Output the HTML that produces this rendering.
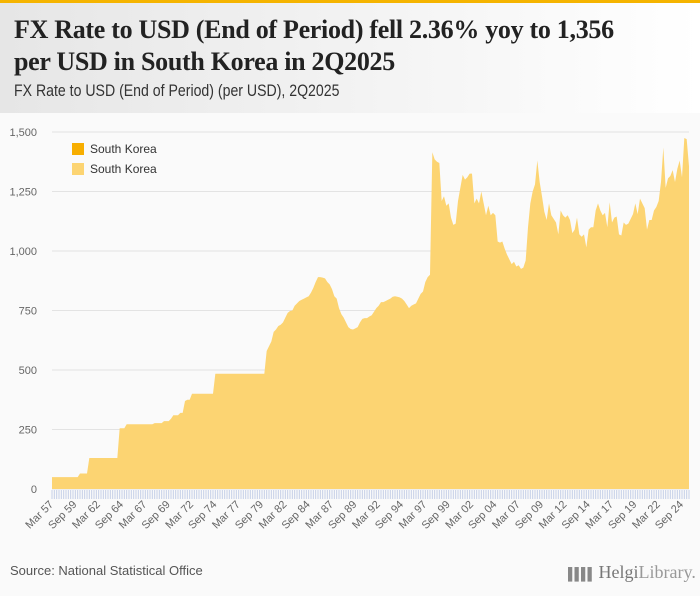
<!DOCTYPE html>
<html><head><meta charset="utf-8">
<style>
html,body{margin:0;padding:0;}
body{width:700px;height:596px;background:#fafafa;font-family:"Liberation Sans",sans-serif;position:relative;overflow:hidden;}
#topbar{position:absolute;left:0;top:0;width:700px;height:3px;background:#f5b400;}
#header{position:absolute;left:0;top:3px;width:700px;height:110px;background:linear-gradient(90deg,#e6e6e6,#ffffff);}
#title{position:absolute;left:14px;top:14px;font-family:"Liberation Serif",serif;font-weight:bold;font-size:26px;line-height:32px;color:#222;letter-spacing:-0.3px;}
#subtitle{position:absolute;left:14px;top:81px;font-size:17px;color:#333;transform:scaleX(0.83);transform-origin:0 0;white-space:nowrap;}
#source{position:absolute;left:10px;top:563px;font-size:13px;color:#555;}
#logo{position:absolute;left:568px;top:562px;font-family:"Liberation Serif",serif;font-size:18px;color:#777;white-space:nowrap;}
svg{position:absolute;left:0;top:0;}
</style></head><body>
<div id="topbar"></div>
<div id="header"></div>
<div id="title">FX Rate to USD (End of Period) fell 2.36% yoy to 1,356<br>per USD in South Korea in 2Q2025</div>
<div id="subtitle">FX Rate to USD (End of Period) (per USD), 2Q2025</div>
<svg id="chart" width="700" height="596"></svg>
<div id="source">Source: National Statistical Office</div>
<div id="logo"><span style="font-size:12px;letter-spacing:-2px;color:#888">▌▌▌▌</span> Helgi<span style="color:#999">Library.</span></div>
<script>
const startYear = 1957;
const values = [
50,50,50,50, 50,50,50,50, 50,50,50,50, 65,65,65,65,
130,130,130,130, 130,130,130,130, 130,130,130,130, 130,255,255,255,
272,272,272,272, 272,272,272,272, 272,272,272,272, 277,277,277,277,
285,285,285,295, 310,310,310,320, 320,370,375,375, 400,400,400,400,
400,400,400,400, 400,400,484,484, 484,484,484,484, 484,484,484,484,
484,484,484,484, 484,484,484,484, 484,484,484,484, 580,600,620,660, 670,685,690,700,
720,740,748,750, 770,780,790,795, 800,805,810,825, 845,870,890,890,
888,885,870,860, 840,810,800,760, 735,720,700,680, 672,670,675,680,
700,715,718,718, 725,730,745,760, 770,785,785,790, 795,800,808,810,
808,805,800,790, 775,760,770,775, 780,800,820,830, 870,890,900,1415,
1385,1375,1370,1210, 1230,1190,1200,1140, 1110,1115,1210,1265, 1320,1300,1310,1325,
1325,1200,1220,1200, 1250,1200,1150,1190, 1150,1160,1150,1040, 1035,1040,1010,985,
965,945,955,935, 940,925,930,960, 1100,1200,1250,1280, 1380,1290,1230,1165, 1130,
1200,1150,1135,1120, 1070,1170,1150,1140, 1150,1130,1075,1090, 1140,1070,1060,1070,
1015,1090,1100,1100, 1170,1200,1170,1150, 1160,1100,1205,1120, 1140,1145,1070,1065,
1120,1110,1115,1135, 1155,1200,1155,1220, 1200,1180,1090,1130, 1130,1170,1185,1210,
1290,1435,1265,1305, 1315,1340,1290,1345, 1380,1310,1475,1470, 1356
];
const yTicks = [0,250,500,750,1000,1250,1500];
const monthNames = ["Mar","Jun","Sep","Dec"];
const legendLabels = ["South Korea","South Korea"];

const NS="http://www.w3.org/2000/svg";
const svg=document.getElementById('chart');
const X0=52, X1=689, Y0=489, Y1=132;
const n=values.length;
const xs=i=>X0+(X1-X0)*i/(n-1);
const ys=v=>Y0-(Y0-Y1)*v/1500;
function mk(t,a){const e=document.createElementNS(NS,t);for(const k in a)e.setAttribute(k,a[k]);svg.appendChild(e);return e;}

yTicks.forEach(t=>{
  const g=mk('line',{x1:X0,x2:X1,y1:ys(t),y2:ys(t),stroke:'#e3e3e3','stroke-width':1});
  
  
  const l=mk('text',{x:37,y:ys(t)+4,'text-anchor':'end','font-size':11,fill:'#666','font-family':'Liberation Sans, sans-serif'});
  l.textContent=t.toLocaleString('en-US');
  
  
});

let d='M'+xs(0)+','+Y0;
values.forEach((v,i)=>{d+=' L'+xs(i).toFixed(2)+','+ys(v).toFixed(2);});
d+=' L'+xs(n-1)+','+Y0+' Z';
const area=mk('path',{d:d,fill:'#fcd472'});



for(let i=0;i<n;i++){
  const t=mk('line',{x1:xs(i),x2:xs(i),y1:490,y2:499,stroke:'#c5d0e8','stroke-width':1});
  
  
  if(i%10===0){
    const yr=startYear+Math.floor(i/4);
    const lab=monthNames[i%4]+' '+String(yr%100).padStart(2,'0');
    const x=xs(i)+2, y=505;
    const tx=mk('text',{x:x,y:y,'text-anchor':'end','font-size':11,fill:'#666','font-family':'Liberation Sans, sans-serif',transform:'rotate(-45 '+x+' '+y+')'});
    tx.textContent=lab;
    
    
  }
}

const legColors=['#f7ae00','#fcd472'];
legendLabels.forEach((lb,k)=>{
  const r=mk('rect',{x:72,y:143+k*20,width:12,height:12,fill:legColors[k]});
  
  
  const t=mk('text',{x:90,y:153+k*20,'font-size':12,fill:'#333','font-family':'Liberation Sans, sans-serif'});
  t.textContent=lb;
  
  
});
</script>
</body></html>
